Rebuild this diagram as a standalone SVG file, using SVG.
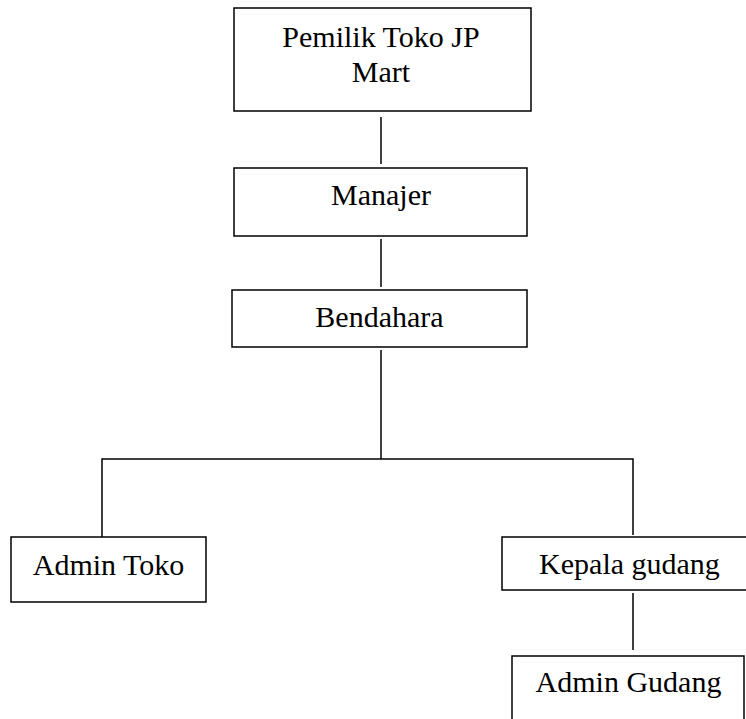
<svg xmlns="http://www.w3.org/2000/svg" width="746" height="719" viewBox="0 0 746 719">
<style>
.box{fill:#fff;stroke:#000;stroke-width:1.5}
.t{font-family:"Liberation Serif","Times New Roman",serif;font-size:30px;fill:#000;text-anchor:middle}
.c{stroke:#000;stroke-width:1.5;fill:none}
</style>
<rect width="746" height="719" fill="#fff"/>
<g id="connectors">
<line class="c" x1="381" y1="117" x2="381" y2="164"/>
<line class="c" x1="381" y1="239" x2="381" y2="287"/>
<line class="c" x1="381" y1="350" x2="381" y2="459"/>
<polyline class="c" points="102,537 102,459 633,459 633,535"/>
<line class="c" x1="633" y1="593" x2="633" y2="650"/>
</g>
<g id="pemilik">
<rect class="box" x="234" y="8" width="297" height="103"/>
<text class="t" x="381" y="47">Pemilik Toko JP</text>
<text class="t" x="381" y="82">Mart</text>
</g>
<g id="manajer">
<rect class="box" x="234" y="168" width="293" height="68"/>
<text class="t" x="381" y="205">Manajer</text>
</g>
<g id="bendahara">
<rect class="box" x="232" y="290" width="295" height="57"/>
<text class="t" x="379.5" y="327">Bendahara</text>
</g>
<g id="admin-toko">
<rect class="box" x="11" y="537" width="195" height="65"/>
<text class="t" x="108.5" y="575">Admin Toko</text>
</g>
<g id="kepala-gudang">
<rect class="box" x="502" y="537" width="245" height="53"/>
<text class="t" x="629.5" y="574">Kepala gudang</text>
</g>
<g id="admin-gudang">
<rect class="box" x="512" y="656" width="232" height="70"/>
<text class="t" x="628.5" y="692">Admin Gudang</text>
</g>
</svg>
